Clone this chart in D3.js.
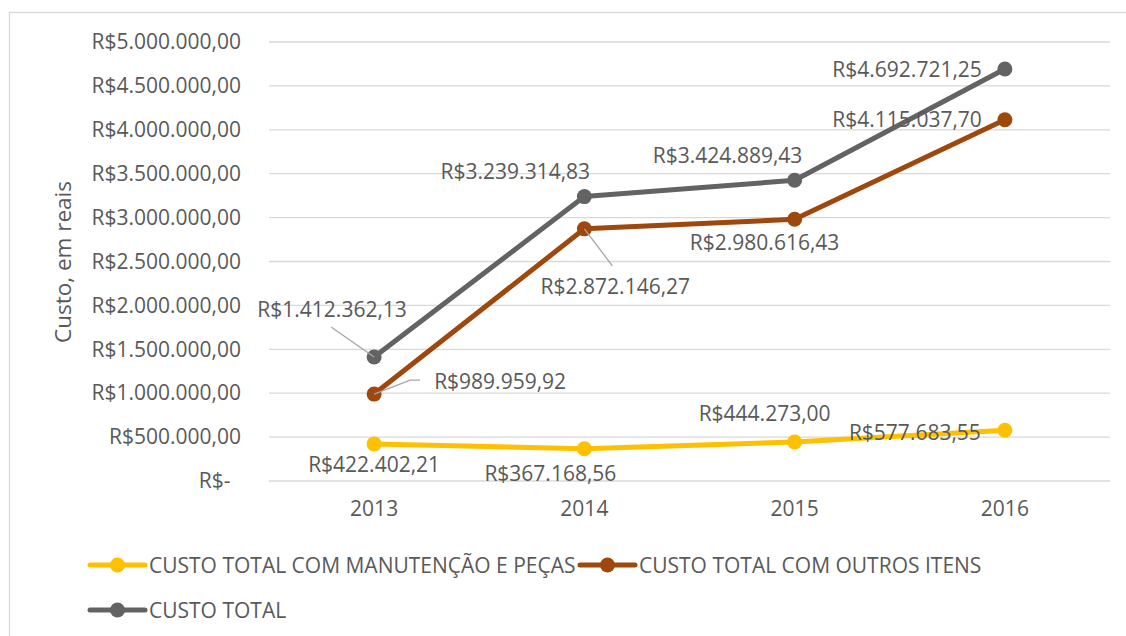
<!DOCTYPE html>
<html>
<head>
<meta charset="utf-8">
<script src="https://cdn.jsdelivr.net/npm/d3@7"></script>
<style>
  body { margin: 0; background: #fff; }
  text { font-family: "Open Sans", sans-serif; fill: #595959; }
</style>
</head>
<body>
<div id="plot"></div>
<script>
// data
var years = ["2013", "2014", "2015", "2016"];
var manutencao = [422402.21, 367168.56, 444273.00, 577683.55];
var outros = [989959.92, 2872146.27, 2980616.43, 4115037.70];
var total = [1412362.13, 3239314.83, 3424889.43, 4692721.25];
var yTicks = [0, 500000, 1000000, 1500000, 2000000, 2500000, 3000000, 3500000, 4000000, 4500000, 5000000];
var seriesNames = ["CUSTO TOTAL COM MANUTENÇÃO E PEÇAS", "CUSTO TOTAL COM OUTROS ITENS", "CUSTO TOTAL"];
var seriesColors = ["#FFC000", "#9E480E", "#636363"];

// label placement (offsets from the point, in px)
var labelPos = [
    [{dx: 0, dy: 20, a: "middle"}, {dx: -34, dy: 24, a: "middle"}, {dx: -30, dy: -29, a: "middle"}, {dx: -24, dy: 2, a: "end"}],
    [{dx: 60, dy: -13, a: "start", leader: [[36, -14], [46, -14]]}, {dx: 31, dy: 57, a: "middle", leader: [[28, 37]]}, {dx: -30, dy: 23, a: "middle"}, {dx: -23, dy: -1, a: "end"}],
    [{dx: -42, dy: -48, a: "middle", leader: [[-43, -30]]}, {dx: -69, dy: -26, a: "middle"}, {dx: -67, dy: -25, a: "middle"}, {dx: -23, dy: 0, a: "end"}]
];

var svgWidth = 1126;
var svgHeight = 636;
var fontSize = 21;

var svg = d3.select("#plot")
    .append("svg")
    .attr("width", svgWidth)
    .attr("height", svgHeight);

// chart frame
svg.append("rect")
    .attr("x", 9.5)
    .attr("y", 12.5)
    .attr("width", svgWidth + 20)
    .attr("height", svgHeight + 20)
    .attr("fill", "none")
    .attr("stroke", "#d9d9d9")
    .attr("stroke-width", 1.3);

var locale = d3.formatLocale({decimal: ",", thousands: ".", grouping: [3], currency: ["R$", ""]});
var money = locale.format("$,.2f");
function fmt(v) { return v === 0 ? "R$-" : money(v); }

var xScale = d3.scaleBand()
    .domain(years)
    .range([269, 1110]);

var yScale = d3.scaleLinear()
    .domain([0, 5000000])
    .range([481, 42]);

// gridlines
svg.append("g")
    .selectAll("line")
    .data(yTicks)
    .enter()
    .append("line")
    .attr("x1", 269)
    .attr("x2", 1110)
    .attr("y1", d => yScale(d))
    .attr("y2", d => yScale(d))
    .attr("stroke", "#d9d9d9")
    .attr("stroke-width", 1.3);

// y axis
var leftAxis = d3.axisLeft(yScale)
    .tickValues(yTicks)
    .tickSize(0)
    .tickPadding(28)
    .tickFormat(fmt);
var yAxisG = svg.append("g")
    .attr("transform", "translate(269,0)")
    .call(leftAxis);
yAxisG.select(".domain").remove();
yAxisG.selectAll("text")
    .attr("font-family", "Open Sans")
    .attr("font-size", fontSize)
    .style("fill", "#595959");
// R$- sits a bit further left, like the accounting format
yAxisG.selectAll("text").filter(d => d === 0).attr("dx", "-0.5em");

// x axis
var bottomAxis = d3.axisBottom(xScale).tickSize(0).tickPadding(20);
var xAxisG = svg.append("g")
    .attr("transform", "translate(0,481)")
    .call(bottomAxis);
xAxisG.select(".domain").remove();
xAxisG.selectAll("text")
    .attr("font-family", "Open Sans")
    .attr("font-size", fontSize)
    .style("fill", "#595959");

// y axis title
svg.append("text")
    .attr("transform", "translate(62,262) rotate(-90)")
    .attr("text-anchor", "middle")
    .attr("dominant-baseline", "central")
    .attr("font-size", 22.5)
    .text("Custo, em reais");

// lines
var allSeries = [manutencao, outros, total];
var cx = d => xScale(d) + xScale.bandwidth() / 2;
var line = d3.line()
    .x((d, i) => cx(years[i]))
    .y(d => yScale(d));

allSeries.forEach(function (vals, s) {
    var g = svg.append("g");
    g.append("path")
        .datum(vals)
        .attr("d", line)
        .attr("fill", "none")
        .attr("stroke", seriesColors[s])
        .attr("stroke-width", 5)
        .attr("stroke-linejoin", "round")
        .attr("stroke-linecap", "round");
    g.selectAll("circle")
        .data(vals)
        .enter()
        .append("circle")
        .attr("cx", (d, i) => cx(years[i]))
        .attr("cy", d => yScale(d))
        .attr("r", 7.5)
        .attr("fill", seriesColors[s]);
});

// data labels
allSeries.forEach(function (vals, s) {
    vals.forEach(function (v, i) {
        var px = cx(years[i]);
        var py = yScale(v);
        var p = labelPos[s][i];
        if (p.leader) {
            var pts = [[px, py]].concat(p.leader.map(q => [px + q[0], py + q[1]]));
            svg.append("path")
                .attr("d", d3.line()(pts))
                .attr("fill", "none")
                .attr("stroke", "#a6a6a6")
                .attr("stroke-width", 1.3);
        }
        svg.append("text")
            .attr("x", px + p.dx)
            .attr("y", py + p.dy)
            .attr("text-anchor", p.a)
            .attr("dominant-baseline", "central")
            .attr("font-size", fontSize)
            .text(fmt(v));
    });
});

// legend
var legendItems = [
    {x: 90, y: 565},
    {x: 580, y: 565},
    {x: 90, y: 610}
];
legendItems.forEach(function (pos, s) {
    var lg = svg.append("g").attr("transform", `translate(${pos.x},${pos.y})`);
    lg.append("line")
        .attr("x1", 0)
        .attr("x2", 55)
        .attr("stroke", seriesColors[s])
        .attr("stroke-width", 5)
        .attr("stroke-linecap", "round");
    lg.append("circle")
        .attr("cx", 27.5)
        .attr("r", 7.5)
        .attr("fill", seriesColors[s]);
    lg.append("text")
        .attr("x", 59)
        .attr("dominant-baseline", "central")
        .attr("font-size", fontSize)
        .text(seriesNames[s]);
});
</script>
</body>
</html>
